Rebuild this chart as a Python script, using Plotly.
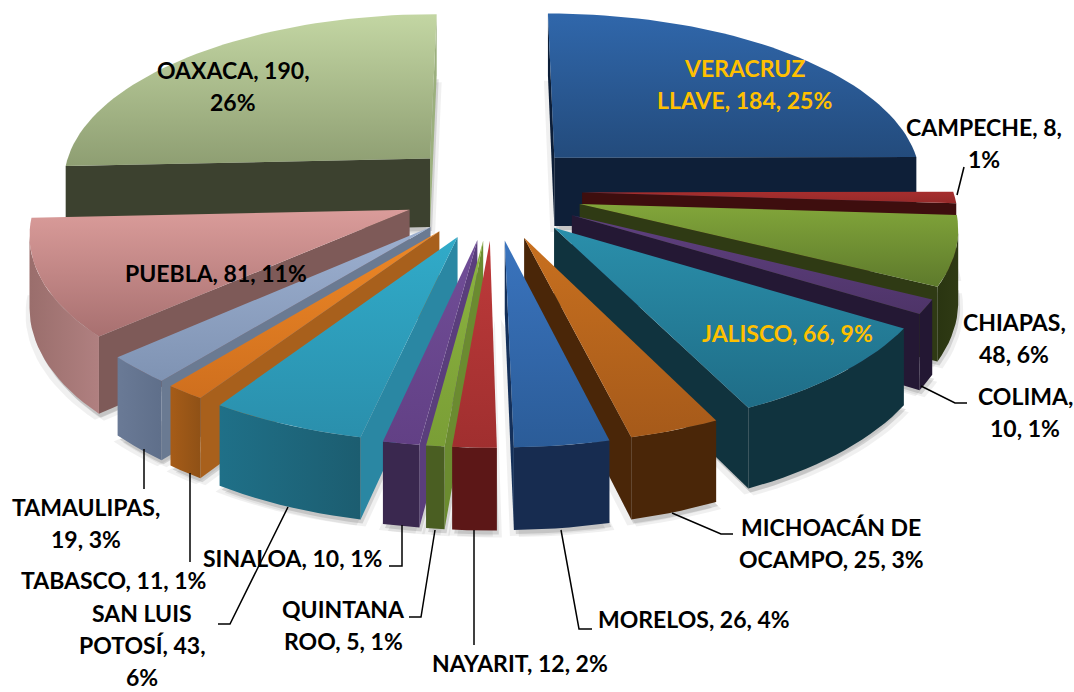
import math
import plotly.graph_objects as go

# ---- data ----
CATEGORIES = ["VERACRUZ LLAVE", "CAMPECHE", "CHIAPAS", "COLIMA", "JALISCO", "MICHOACÁN DE OCAMPO",
              "MORELOS", "NAYARIT", "QUINTANA ROO", "SINALOA", "SAN LUIS POTOSÍ", "TABASCO",
              "TAMAULIPAS", "PUEBLA", "OAXACA"]
VALUES = [184, 8, 48, 10, 66, 25, 26, 12, 5, 10, 43, 11, 19, 81, 190]

# ---- styles: top gradient (upper, lower), outer wall (left, right), radial walls (start, end) ----
STYLES = [
    (("#3067AB", "#234B7C"), ("#0E2038", "#0E2038"), ("#0C1E38", "#0E1F38")),
    (("#A62E2E", "#962A2A"), ("#3E0E0E", "#3E0E0E"), ("#3E0E0E", "#3E0E0E")),
    (("#82A63A", "#5E7A2C"), ("#2A3511", "#2F3A14"), ("#2F3A14", "#2F3A14")),
    (("#5F4080", "#4E3468"), ("#231733", "#231733"), ("#241834", "#241834")),
    (("#2A8FAB", "#1F6D87"), ("#10333E", "#10333E"), ("#10333E", "#10333E")),
    (("#C8701F", "#A65A1A"), ("#4A2608", "#4A2608"), ("#4A2608", "#4A2608")),
    (("#3A74BE", "#2B5C98"), ("#172C50", "#172C50"), ("#14305A", "#14305A")),
    (("#BE3A3A", "#A02F2F"), ("#5C1717", "#5C1717"), ("#5C1717", "#5C1717")),
    (("#8CB440", "#7A9E36"), ("#4A5E22", "#4A5E22"), ("#6B8B30", "#6B8B30")),
    (("#714E98", "#624085"), ("#3A284F", "#3A284F"), ("#5A3E7C", "#5A3E7C")),
    (("#31ABC9", "#2A8FAC"), ("#1F7088", "#1C5D70"), ("#2A87A3", "#1F7087")),
    (("#EE8826", "#CF6F1E"), ("#A65C18", "#8F5116"), ("#A8601C", "#8A4E16")),
    (("#9DB0D0", "#7F93B3"), ("#6A7A96", "#5F6F8A"), ("#6A7A92", "#556580")),
    (("#DA9C9A", "#A87070"), ("#9A6E6C", "#B08080"), ("#7E5A58", "#5E4140")),
    (("#C3D6A3", "#8E9E72"), ("#3C412F", "#3C412F"), ("#3C412F", "#9CB07E")),
]

LINE_GAP = 32
LABELS = [
    (["VERACRUZ", "LLAVE, 184, 25%"], "#FFC000", 744, 68),
    (["CAMPECHE, 8,", "1%"], "#000000", 984, 127),
    (["CHIAPAS,", "48, 6%"], "#000000", 1014, 322),
    (["COLIMA,", "10, 1%"], "#000000", 1025, 396),
    (["JALISCO, 66, 9%"], "#FFC000", 787, 333),
    (["MICHOACÁN DE", "OCAMPO, 25, 3%"], "#000000", 831, 527),
    (["MORELOS, 26, 4%"], "#000000", 694, 619),
    (["NAYARIT, 12, 2%"], "#000000", 520, 663),
    (["QUINTANA", "ROO, 5, 1%"], "#000000", 343, 609),
    (["SINALOA, 10, 1%"], "#000000", 292, 558),
    (["SAN LUIS", "POTOSÍ, 43,", "6%"], "#000000", 142, 613),
    (["TABASCO, 11, 1%"], "#000000", 113, 580),
    (["TAMAULIPAS,", "19, 3%"], "#000000", 86, 507),
    (["PUEBLA, 81, 11%"], "#000000", 216, 273),
    (["OAXACA, 190,", "26%"], "#000000", 233, 70),
]
LEADERS = [
    [(964, 167), (957, 195)],
    [(921, 386), (955, 403), (967, 403)],
    [(672, 513), (721, 534), (733, 534)],
    [(561, 530), (579, 629), (592, 629)],
    [(474, 530), (474, 645)],
    [(435, 530), (421, 617), (409, 617)],
    [(402, 525), (402, 566), (389, 566)],
    [(288, 507), (230, 624), (218, 624)],
    [(190, 473), (190, 562)],
    [(144, 449), (144, 489)],
]

# ---- projection of the tilted, exploded pie ----
CX, CY = 493, 191
A, B = 371, 169
K, H = 0.12, 70
EXPLODE_X, EXPLODE_Y = 0.24, 0.285
ARC_STEP = 2.0


def project(x, y, z):
    w = 1 + K * y
    return CX + A * x / w, CY - B * y / w + H * z / w


def slice_outline(a0, a1):
    mid = math.radians((a0 + a1) / 2)
    ex, ey = EXPLODE_X * math.sin(mid), EXPLODE_Y * math.cos(mid)
    n = max(2, int((a1 - a0) / ARC_STEP) + 1)
    arc = [a0 + (a1 - a0) * i / n for i in range(n + 1)]
    rim = [(ex + math.sin(math.radians(t)), ey + math.cos(math.radians(t))) for t in arc]
    return (ex, ey), rim


def area(poly):
    s = 0
    for i in range(len(poly)):
        x0, y0 = poly[i]
        x1, y1 = poly[(i + 1) % len(poly)]
        s += x0 * y1 - x1 * y0
    return s


fig = go.Figure()


def add_poly(poly, c0=None, c1=None, vertical=True, flat=None):
    xs = [p[0] for p in poly] + [poly[0][0]]
    ys = [p[1] for p in poly] + [poly[0][1]]
    kw = dict(x=xs, y=ys, mode="lines", fill="toself", hoverinfo="skip", showlegend=False,
              line=dict(width=0))
    if flat:
        kw["fillcolor"] = flat
    else:
        vals = ys if vertical else xs
        lo, hi = min(vals), max(vals)
        if hi - lo < 1:
            hi = lo + 1
        kw["fillgradient"] = dict(type="vertical" if vertical else "horizontal",
                                  colorscale=[[0, c0], [1, c1]], start=lo, stop=hi)
    fig.add_trace(go.Scatter(**kw))


total = sum(VALUES)
angles, acc = [], 0.0
for v in VALUES:
    angles.append((acc / total * 360, (acc + v) / total * 360))
    acc += v

order = sorted(range(len(VALUES)), key=lambda i: -math.cos(math.radians(sum(angles[i]) / 2)))

# soft shadow
for i in order:
    apex, rim = slice_outline(*angles[i])
    base = [project(*apex, 1)] + [project(x, y, 1) for x, y in rim]
    for dx, dy, alpha in ((5, 7, 0.06), (-4, 6, 0.06), (2, 4, 0.12)):
        add_poly([(x + dx, y + dy) for x, y in base], flat=f"rgba(0,0,0,{alpha})")

for i in order:
    apex, rim = slice_outline(*angles[i])
    (t0, t1), (o0, o1), (r0, r1) = STYLES[i]
    for a, b, col in ((apex, rim[0], r0), (rim[-1], apex, r1)):
        q = [project(*a, 0), project(*b, 0), project(*b, 1), project(*a, 1)]
        if area(q) < 0:
            add_poly(q, flat=col)
    run = []
    for p, r in zip(rim[:-1], rim[1:]):
        q = [project(*p, 0), project(*r, 0), project(*r, 1), project(*p, 1)]
        if area(q) < 0:
            run.append((p, r))
    if run:
        pts = [run[0][0]] + [r for _, r in run]
        poly = [project(*p, 0) for p in pts] + [project(*p, 1) for p in reversed(pts)]
        add_poly(poly, o0, o1, vertical=False)
    top = [project(*apex, 0)] + [project(x, y, 0) for x, y in rim]
    add_poly(top, t0, t1, vertical=True)

for path in LEADERS:
    fig.add_trace(go.Scatter(x=[p[0] for p in path], y=[p[1] for p in path], mode="lines",
                             line=dict(color="#000000", width=1.5), hoverinfo="skip", showlegend=False))

for lines, col, x, y in LABELS:
    for j, txt in enumerate(lines):
        fig.add_annotation(x=x, y=y + j * LINE_GAP, text=f"<b>{txt}</b>", showarrow=False,
                           xanchor="center", yanchor="middle",
                           font=dict(family="Lato", size=23, color=col))

fig.update_layout(
    width=1074, height=692, margin=dict(l=0, r=0, t=0, b=0),
    paper_bgcolor="white", plot_bgcolor="white", showlegend=False,
    xaxis=dict(range=[0, 1074], visible=False, fixedrange=True),
    yaxis=dict(range=[692, 0], visible=False, fixedrange=True),
)
fig.write_html("out.html", config={"displayModeBar": False},
               post_script="document.body.style.margin='0';document.documentElement.style.overflow='hidden';")
